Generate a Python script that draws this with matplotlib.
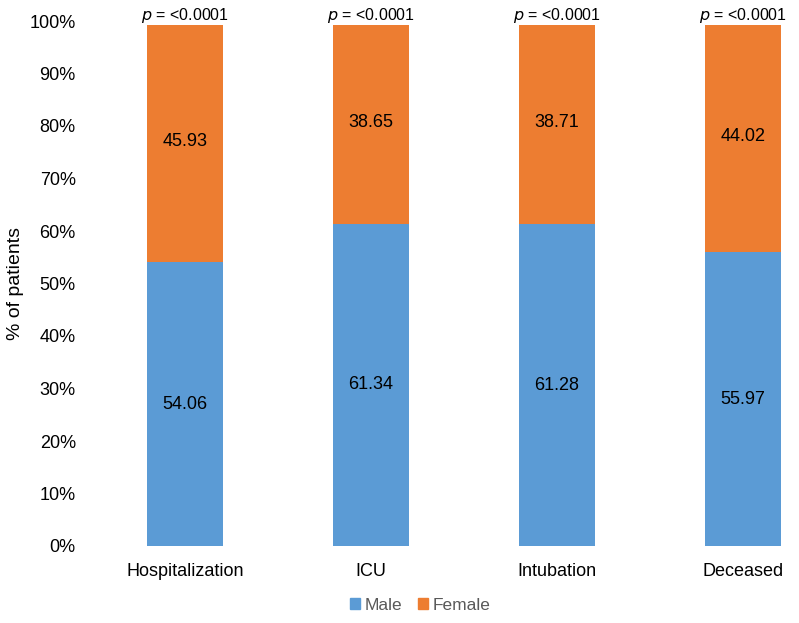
import matplotlib
matplotlib.use("Agg")
import matplotlib.pyplot as plt
import numpy as np
from matplotlib.patches import Patch

categories = ["Hospitalization", "ICU", "Intubation", "Deceased"]
male = [54.06, 61.34, 61.28, 55.97]
female = [45.93, 38.65, 38.71, 44.02]
pvals = ["<0.0001", "<0.0001", "<0.0001", "<0.0001"]
yticks = [0, 10, 20, 30, 40, 50, 60, 70, 80, 90, 100]

plt.rcParams['font.family'] = ['Liberation Sans', 'DejaVu Sans']

fig = plt.figure(figsize=(7.99, 6.23), dpi=100)
W, H = 799, 623
left_px, right_px, bot_px, top_px = 80, 799, 546, 21
ax = fig.add_axes([left_px / W, (H - bot_px) / H, (right_px - left_px) / W, (bot_px - top_px) / H])

blue = "#5B9BD5"
orange = "#ED7D31"
x = np.arange(len(categories))
width = 0.405
ax.bar(x, male, width, color=blue, label="Male")
ax.bar(x, female, width, bottom=male, color=orange, label="Female")

for i in range(len(categories)):
    ax.text(x[i], male[i] / 2, f"{male[i]:.2f}", ha="center", va="center", fontsize=13, color="black")
    ax.text(x[i], male[i] + female[i] / 2, f"{female[i]:.2f}", ha="center", va="center", fontsize=13, color="black")
    ax.text(x[i], 99.3, r"$\it{p}$ = " + pvals[i], ha="center", va="bottom", fontsize=11.5, color="black",
            bbox=dict(facecolor="white", edgecolor="none", pad=0.5), zorder=5)

# x range: centers at pixels 185 + 186*i
ax.set_xlim((left_px - 185) / 186, (right_px - 185) / 186)
ax.set_ylim(0, 100)
ax.set_yticks(yticks)
ax.set_yticklabels([f"{t}%" for t in yticks], fontsize=13)
ax.set_xticks(x)
ax.set_xticklabels(categories, fontsize=13)
ax.tick_params(axis="y", length=0, pad=3)
ax.tick_params(axis="x", length=0, pad=12)
for s in ax.spines.values():
    s.set_visible(False)
fig.text(15 / W, 1 - 283 / H, "% of patients", rotation=90, ha="center", va="center", fontsize=14)

handles = [Patch(color=blue, label="Male"), Patch(color=orange, label="Female")]
fig.legend(handles=handles, loc="center", bbox_to_anchor=(420 / W, 1 - 605 / H), ncol=2, frameon=False,
           fontsize=12.5, handlelength=0.6, handleheight=0.6, handletextpad=0.25, columnspacing=0.9,
           labelcolor="#595959")

fig.savefig("out.png", dpi=100)
